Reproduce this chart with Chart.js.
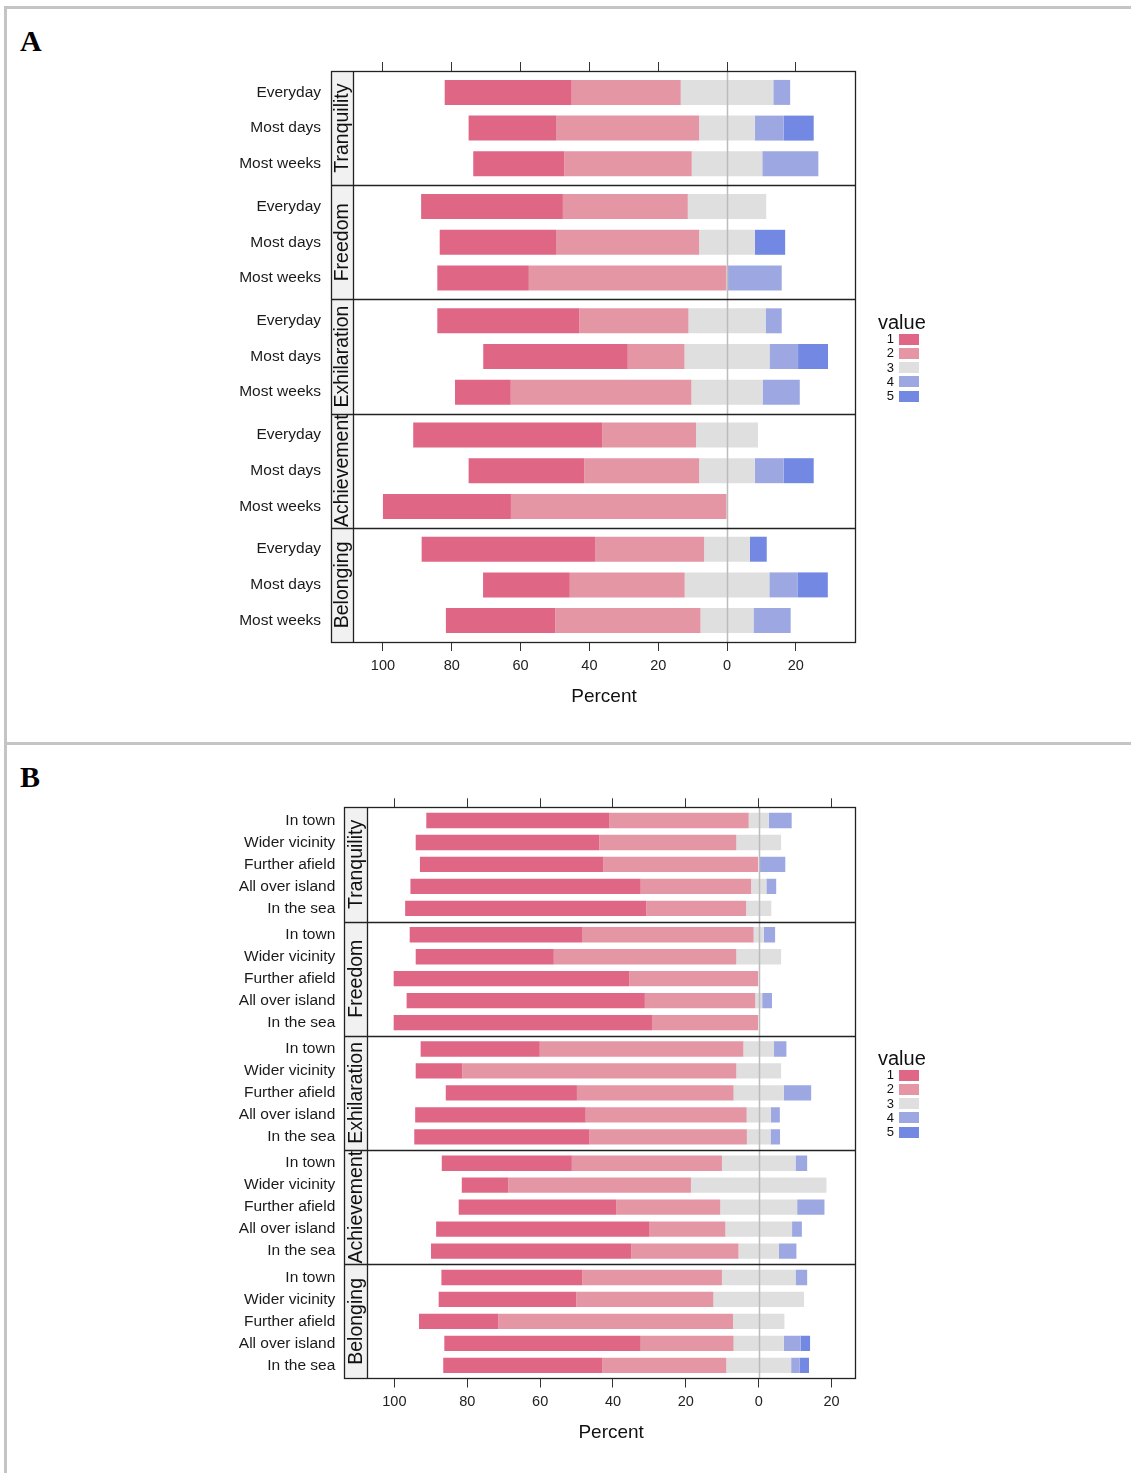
<!DOCTYPE html>
<html>
<head>
<meta charset="utf-8">
<title>Likert panels</title>
<script src="https://cdn.jsdelivr.net/npm/chart.js@4.4.1/dist/chart.umd.min.js"></script>
<style>
	body { margin: 0; background: #fff; font-family: "Liberation Sans", Arial, sans-serif; }
	#page { position: relative; width: 1131px; height: 1473px; overflow: hidden; background: #fff; }
	.borda { position: absolute; background: #c4c4c4; }
	.letra { position: absolute; left: 20px; font-family: "Liberation Serif", "Times New Roman", serif; font-weight: bold; font-size: 30px; line-height: 30px; color: #000; }
	canvas { position: absolute; left: 0; }
	.leg_titulo { position: absolute; left: 878px; font-size: 20px; line-height: 20px; color: #111; }
	.leg_num { position: absolute; width: 20px; left: 874px; text-align: right; font-size: 13px; line-height: 14px; color: #111; }
	.leg_caixa { position: absolute; left: 899px; width: 20px; height: 11px; }
</style>
</head>
<body>
<div id="page">
	<div class="borda" style="left:4px; top:6px; width:1127px; height:3px;"></div>
	<div class="borda" style="left:4px; top:6px; width:3px; height:1467px;"></div>
	<div class="borda" style="left:4px; top:742px; width:1127px; height:3px;"></div>
	<div class="letra" style="top:26px;">A</div>
	<div class="letra" style="top:762px;">B</div>
	<canvas id="grafico_a" width="1131" height="740" style="top:0px; width:1131px; height:740px;"></canvas>
	<canvas id="grafico_b" width="1131" height="728" style="top:745px; width:1131px; height:728px;"></canvas>
</div>
<script>
// categories
var groups = ["Tranquility", "Freedom", "Exhilaration", "Achievement", "Belonging"];
var rowsA = ["Everyday", "Most days", "Most weeks"];
var rowsB = ["In town", "Wider vicinity", "Further afield", "All over island", "In the sea"];
var levels = ["1", "2", "3", "4", "5"];
var levelColors = ["#E06686", "#E496A5", "#DFDFDF", "#9DA8E2", "#7288E2"];
var xTicks = [-100, -80, -60, -40, -20, 0, 20];

// panel A, percent per answer level (group by group, rows in order)
var a1 = [36.9, 25.4, 26.5, 41.2, 33.8, 26.6, 41.3, 42.0, 16.2, 54.9, 33.6, 37.2, 50.4, 25.2, 31.8];
var a2 = [31.7, 41.6, 37.0, 36.3, 41.6, 57.6, 31.7, 16.5, 52.5, 27.3, 33.4, 62.8, 31.7, 33.4, 42.2];
var a3 = [26.9, 16.2, 20.5, 22.8, 16.2, 0, 22.4, 24.7, 20.7, 18.0, 16.2, 0, 13.3, 24.6, 15.4];
var a4 = [4.9, 8.4, 16.3, 0, 0, 15.9, 4.7, 8.3, 10.8, 0, 8.4, 0, 0, 8.3, 10.8];
var a5 = [0, 8.7, 0, 0, 8.8, 0, 0, 8.7, 0, 0, 8.7, 0, 4.9, 8.7, 0];

// panel B
var b1 = [50.3, 50.4, 50.4, 63.2, 66.2, 47.3, 37.9, 64.7, 65.4, 70.9, 32.7, 12.8, 36.0, 46.8, 48.1, 35.7, 12.8, 43.2, 58.6, 55.0, 38.7, 37.8, 21.8, 53.9, 43.6];
var b2 = [38.2, 37.6, 42.6, 30.3, 27.4, 47.1, 50.1, 35.5, 30.3, 29.3, 55.9, 75.2, 43.0, 44.2, 43.2, 41.2, 50.1, 28.6, 20.8, 29.4, 38.3, 37.6, 64.4, 25.5, 34.1];
var b3 = [5.5, 12.3, 0, 4.2, 6.9, 2.8, 12.3, 0, 1.9, 0, 8.4, 12.3, 13.8, 6.6, 6.5, 20.2, 37.2, 21.1, 18.3, 11.1, 20.2, 24.9, 14.1, 13.8, 17.8];
var b4 = [6.3, 0, 7.3, 2.7, 0, 3.1, 0, 0, 2.7, 0, 3.4, 0, 7.5, 2.5, 2.6, 3.2, 0, 7.5, 2.7, 4.8, 3.2, 0, 0, 4.6, 2.3];
var b5 = [0, 0, 0, 0, 0, 0, 0, 0, 0, 0, 0, 0, 0, 0, 0, 0, 0, 0, 0, 0, 0, 0, 0, 2.6, 2.6];

Chart.defaults.font.family = '"Liberation Sans", Arial, sans-serif';
Chart.defaults.color = "#1a1a1a";

// strips, group separators, frame and the zero reference line
var panelFrame = {
	id: "panelFrame",
	afterDatasetsDraw: function (chart) {
		var ctx = chart.ctx;
		var area = chart.chartArea;
		var x0 = Math.round(chart.scales.x.getPixelForValue(0)) + 0.5;
		ctx.save();
		ctx.strokeStyle = "#bcbcbc";
		ctx.lineWidth = 1.5;
		ctx.beginPath();
		ctx.moveTo(x0, area.top);
		ctx.lineTo(x0, area.bottom);
		ctx.stroke();
		ctx.restore();
	},
	afterDraw: function (chart, args, opts) {
		var ctx = chart.ctx;
		var area = chart.chartArea;
		var y = chart.scales.y;
		var left = opts.stripLeft;
		var span = opts.span;
		ctx.save();
		groups.forEach(function (nome, g) {
			var top = y.getPixelForValue(g * span + 0.4);
			var bottom = y.getPixelForValue((g + 1) * span + 0.4);
			ctx.fillStyle = "#f1f1f1";
			ctx.fillRect(left, top, area.left - left, bottom - top);
			ctx.save();
			ctx.translate((left + area.left) / 2 + 1, (top + bottom) / 2);
			ctx.rotate(-Math.PI / 2);
			ctx.fillStyle = "#111";
			ctx.font = '19.5px "Liberation Sans", Arial, sans-serif';
			ctx.textAlign = "center";
			ctx.textBaseline = "middle";
			ctx.fillText(nome, 0, 0);
			ctx.restore();
		});
		ctx.strokeStyle = "#222";
		ctx.lineWidth = 1.3;
		ctx.beginPath();
		for (var g = 1; g < groups.length; g++) {
			var yy = Math.round(y.getPixelForValue(g * span + 0.4)) + 0.5;
			ctx.moveTo(left, yy);
			ctx.lineTo(area.right, yy);
		}
		ctx.moveTo(Math.round(area.left) + 0.5, area.top);
		ctx.lineTo(Math.round(area.left) + 0.5, area.bottom);
		ctx.stroke();
		ctx.strokeRect(Math.round(left) + 0.5, Math.round(area.top) + 0.5, Math.round(area.right - left), Math.round(area.bottom - area.top));
		ctx.restore();
	},
};

function buildPanel(canvasId, rows, values, geo) {
	var nRows = rows.length;
	var span = nRows + 0.2;
	var positions = [];
	for (var g = 0; g < groups.length; g++) {
		for (var r = 0; r < nRows; r++) {
			positions.push(g * span + r + 1);
		}
	}

	// neutral level is split around zero
	var datasets = levels.map(function (lvl, k) {
		var data = [];
		positions.forEach(function (pos, i) {
			var start = -(values[0][i] + values[1][i] + values[2][i] / 2);
			for (var j = 0; j < k; j++) start += values[j][i];
			if (values[k][i] > 0) {
				data.push({ y: pos, x: [start, start + values[k][i]] });
			}
		});
		return {
			label: lvl,
			data: data,
			backgroundColor: levelColors[k],
			borderWidth: 0,
			grouped: false,
			barPercentage: 0.7,
			categoryPercentage: 1,
		};
	});

	var setXTicks = function (scale) {
		scale.ticks = xTicks.map(function (v) { return { value: v }; });
	};

	return new Chart(document.getElementById(canvasId), {
		type: "bar",
		data: { datasets: datasets },
		options: {
			indexAxis: "y",
			responsive: false,
			animation: false,
			devicePixelRatio: 1,
			layout: { padding: { left: 0, right: geo.padRight, top: 0, bottom: 0 } },
			plugins: {
				legend: { display: false },
				tooltip: { enabled: false },
				panelFrame: { stripLeft: geo.stripLeft, span: span },
			},
			scales: {
				y: {
					type: "linear",
					min: 0.4,
					max: groups.length * span + 0.4,
					reverse: true,
					offset: false,
					afterBuildTicks: function (scale) {
						scale.ticks = positions.map(function (v) { return { value: v }; });
					},
					afterFit: function (scale) { scale.width = geo.left; },
					ticks: {
						callback: function (v, i) { return rows[i % nRows]; },
						font: { size: 15.5 },
						color: "#1a1a1a",
						padding: 32,
						autoSkip: false,
					},
					grid: { display: false, drawTicks: false, offset: false },
					border: { display: false },
				},
				x: {
					type: "linear",
					position: "bottom",
					min: geo.xMin,
					max: geo.xMax,
					stacked: false,
					afterBuildTicks: setXTicks,
					afterFit: function (scale) { scale.height = geo.bottomAxis; },
					ticks: {
						callback: function (v) { return Math.abs(v); },
						font: { size: 14.5 },
						color: "#222",
						padding: 6,
						maxRotation: 0,
						autoSkip: false,
					},
					grid: { drawOnChartArea: false, tickLength: 9, tickColor: "#333", tickWidth: 1 },
					border: { display: false },
					title: {
						display: true,
						text: "Percent",
						font: { size: 19 },
						color: "#111",
						padding: { top: 0, bottom: geo.titlePad },
					},
				},
				xTop: {
					type: "linear",
					position: "top",
					min: geo.xMin,
					max: geo.xMax,
					afterBuildTicks: setXTicks,
					afterFit: function (scale) { scale.height = geo.top; },
					ticks: { display: false },
					grid: { drawOnChartArea: false, tickLength: 9, tickColor: "#333", tickWidth: 1 },
					border: { display: false },
				},
			},
		},
		plugins: [panelFrame],
	});
}

function buildLegend(titleMiddle, firstMiddle) {
	var page = document.getElementById("page");
	var titulo = document.createElement("div");
	titulo.className = "leg_titulo";
	titulo.style.top = titleMiddle - 10 + "px";
	titulo.textContent = "value";
	page.appendChild(titulo);
	levels.forEach(function (lvl, k) {
		var meio = firstMiddle + k * 14.25;
		var num = document.createElement("div");
		num.className = "leg_num";
		num.style.top = meio - 7 + "px";
		num.textContent = lvl;
		page.appendChild(num);
		var caixa = document.createElement("div");
		caixa.className = "leg_caixa";
		caixa.style.top = meio - 5.5 + "px";
		caixa.style.background = levelColors[k];
		page.appendChild(caixa);
	});
}

var chart_a = buildPanel("grafico_a", rowsA, [a1, a2, a3, a4, a5], {
	left: 353, stripLeft: 331, padRight: 276, top: 71, bottomAxis: 98, titlePad: 31.6,
	xMin: -108.7, xMax: 37.2,
});
var chart_b = buildPanel("grafico_b", rowsB, [b1, b2, b3, b4, b5], {
	left: 367.3, stripLeft: 344, padRight: 276, top: 62.3, bottomAxis: 94.5, titlePad: 28.6,
	xMin: -107.44, xMax: 26.43,
});

buildLegend(322, 339);
buildLegend(1058, 1075);
</script>
</body>
</html>
